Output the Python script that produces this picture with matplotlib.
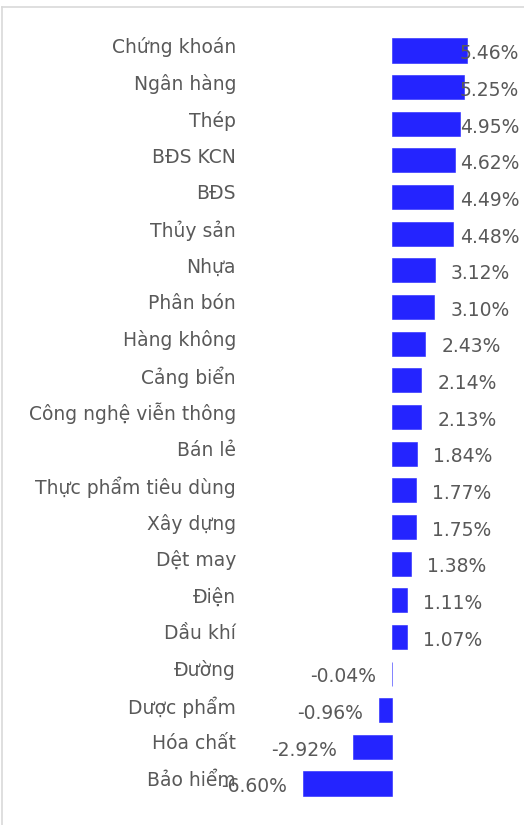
"""
Sector performance bar chart (horizontal)
"""
import matplotlib
matplotlib.use('Agg')
import matplotlib.pyplot as plt
from matplotlib.lines import Line2D

# ======================================================================================================================
# Data
SECTORS = ['Chứng khoán', 'Ngân hàng', 'Thép', 'BĐS KCN', 'BĐS', 'Thủy sản', 'Nhựa', 'Phân bón',
           'Hàng không', 'Cảng biển', 'Công nghệ viễn thông', 'Bán lẻ', 'Thực phẩm tiêu dùng',
           'Xây dựng', 'Dệt may', 'Điện', 'Dầu khí', 'Đường', 'Dược phẩm', 'Hóa chất', 'Bảo hiểm']
CHANGES = [5.46, 5.25, 4.95, 4.62, 4.49, 4.48, 3.12, 3.10, 2.43, 2.14, 2.13, 1.84, 1.77, 1.75,
           1.38, 1.11, 1.07, -0.04, -0.96, -2.92, -6.60]

BAR_COLOR = '#2424FF'
TEXT_COLOR = '#595959'
W, H = 524, 825
ZERO_PX = 392.3
SCALE = 13.6  # px per unit
TOP_PX, PITCH = 50.5, 36.65
FS = 13.5

# ======================================================================================================================
fig = plt.figure(figsize=(W / 100, H / 100), dpi=100)
xmin = -ZERO_PX / SCALE
xmax = (W - ZERO_PX) / SCALE
axTop = TOP_PX - PITCH / 2
axBot = TOP_PX + (len(SECTORS) - 0.5) * PITCH
ax = fig.add_axes([0, 1 - axBot / H, 1, (axBot - axTop) / H])
ax.set_xlim(xmin, xmax)
ax.set_ylim(len(SECTORS) - 0.5, -0.5)
ax.axis('off')

ypos = list(range(len(SECTORS)))
ax.barh(ypos, CHANGES, height=0.655, color=BAR_COLOR, edgecolor=BAR_COLOR, linewidth=0.4)

off = 16 / SCALE
limit = (460 - ZERO_PX) / SCALE
for y, name, v in zip(ypos, SECTORS, CHANGES):
    ax.text((236 - ZERO_PX) / SCALE, y - 0.09, name, ha='right', va='center',
            fontsize=FS, color=TEXT_COLOR)
    if v >= 0:
        ax.text(min(v + off, limit), y + 0.09, f'{v:.2f}%', ha='left', va='center',
                fontsize=FS, color=TEXT_COLOR)
    else:
        ax.text(v - off, y + 0.09, f'{v:.2f}%', ha='right', va='center',
                fontsize=FS, color=TEXT_COLOR)

# light frame at top and left
fig.add_artist(Line2D([1.5 / W, 1], [1 - 7 / H, 1 - 7 / H], color='#D9D9D9', lw=1.2))
fig.add_artist(Line2D([1.5 / W, 1.5 / W], [0, 1 - 7 / H], color='#D9D9D9', lw=1.2))

fig.savefig('out.png', dpi=100)
